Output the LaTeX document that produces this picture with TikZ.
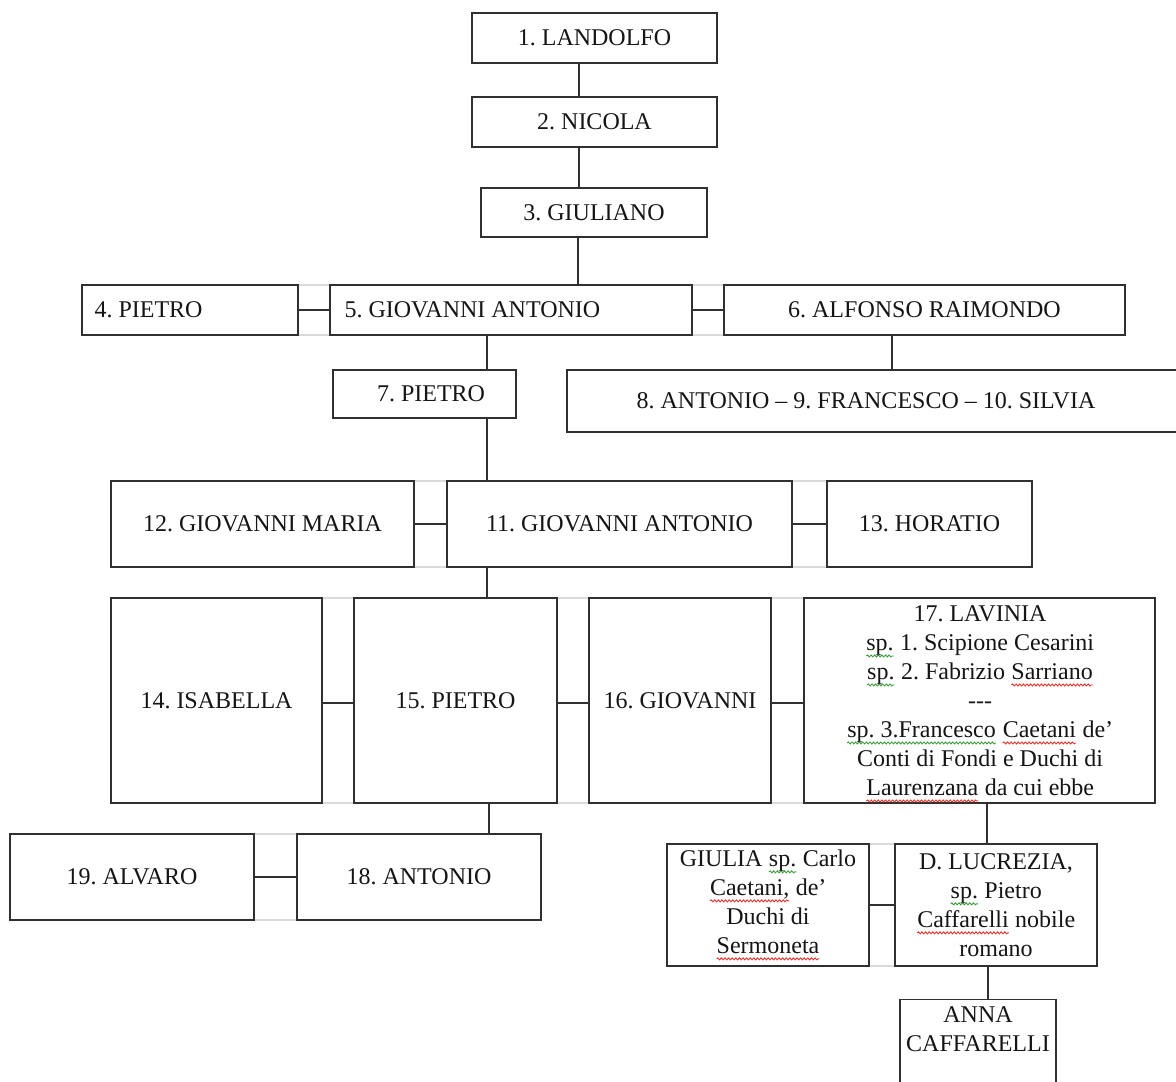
\documentclass[tikz,border=0pt]{standalone}
\usepackage{fontspec}
\setmainfont{Liberation Serif}
\usetikzlibrary{decorations.pathmorphing}
\definecolor{lineC}{HTML}{303030}
\definecolor{gridC}{HTML}{DADADA}
\definecolor{textC}{HTML}{151515}
\definecolor{spellR}{HTML}{E5332A}
\definecolor{spellG}{HTML}{3C9E3C}
\newcommand\squig[2]{\tikz[baseline=(sqw.base)]{\node[inner sep=0pt,outer sep=0pt,minimum width=0pt,minimum height=0pt,draw=none,anchor=center] (sqw) {#2};\draw[#1,line width=0.9pt,decorate,decoration={snake,amplitude=1pt,segment length=3.6pt}] ([yshift=-5.5pt]sqw.base west) -- ([yshift=-5.5pt]sqw.base east);}}
\tikzset{
  boxst/.style={draw=lineC, line width=1.3pt, fill=white, inner sep=2pt, align=center, text=textC,
    font=\fontsize{24}{29}\selectfont\frenchspacing},
  txt/.style={inner sep=0pt, align=center, text=textC, font=\fontsize{24}{29}\selectfont\frenchspacing},
  conn/.style={draw=lineC, line width=1.3pt},
  gridst/.style={draw=gridC, line width=1.5pt}
}
\begin{document}
\begin{tikzpicture}[x=1pt,y=-1pt]
\useasboundingbox[fill=white] (0,0) rectangle (1176,1082);
% gray grid lines
\draw[gridst] (298,285) -- (330,285) (298,335) -- (330,335);
\draw[gridst] (692,285) -- (724,285) (692,335) -- (724,335);
\draw[gridst] (414,481) -- (447,481) (414,567) -- (447,567);
\draw[gridst] (792,481) -- (827,481) (792,567) -- (827,567);
\draw[gridst] (322,598) -- (354,598) (322,803) -- (354,803);
\draw[gridst] (557,598) -- (589,598) (557,803) -- (589,803);
\draw[gridst] (771,598) -- (804,598) (771,803) -- (804,803);
\draw[gridst] (254,834) -- (297,834) (254,920) -- (297,920);
\draw[gridst] (869,844) -- (895,844) (869,966) -- (895,966);
% boxes
\node[boxst, minimum width=245pt, minimum height=50pt] (n1) at (594.5,38) {1. LANDOLFO};
\node[boxst, minimum width=245pt, minimum height=50pt] (n2) at (594.5,122) {2. NICOLA};
\node[boxst, minimum width=226pt, minimum height=49pt] (n3) at (594,212.5) {3. GIULIANO};
\node[boxst, minimum width=216pt, minimum height=50pt] (n4) at (190,310) {};
\node[txt, anchor=west] (t4) at ([xshift=13pt]n4.west) {4. PIETRO};
\node[boxst, minimum width=362pt, minimum height=50pt] (n5) at (511,310) {};
\node[txt, anchor=west] (t5) at ([xshift=15pt]n5.west) {5. GIOVANNI ANTONIO};
\node[boxst, minimum width=401pt, minimum height=50pt] (n6) at (924.5,310) {6. ALFONSO RAIMONDO};
\node[boxst, minimum width=183pt, minimum height=48pt] (n7) at (424.5,394) {};
\node[txt] (t7) at (431,394) {7. PIETRO};
\node[boxst, minimum width=620pt, minimum height=62pt] (n8) at (877,401) {};
\node[txt] (t8) at (866,401) {8. ANTONIO – 9. FRANCESCO – 10. SILVIA};
\node[boxst, minimum width=303pt, minimum height=86pt] (n12) at (262.5,524) {12. GIOVANNI MARIA};
\node[boxst, minimum width=345pt, minimum height=86pt] (n11) at (619.5,524) {11. GIOVANNI ANTONIO};
\node[boxst, minimum width=205pt, minimum height=86pt] (n13) at (929.5,524) {13. HORATIO};
\node[boxst, minimum width=211pt, minimum height=205pt] (n14) at (216.5,700.5) {14. ISABELLA};
\node[boxst, minimum width=203pt, minimum height=205pt] (n15) at (455.5,700.5) {15. PIETRO};
\node[boxst, minimum width=182pt, minimum height=205pt] (n16) at (680,700.5) {16. GIOVANNI};
\node[boxst, minimum width=351pt, minimum height=205pt] (n17) at (979.5,700.5) {};
\node[txt] (t17) at (980,704) {17. LAVINIA\\
\squig{spellG}{sp.} 1. Scipione Cesarini\\
\squig{spellG}{sp.} 2. Fabrizio \squig{spellR}{Sarriano}\\
-{}-{}-\\
\squig{spellG}{sp. 3.Francesco} \squig{spellR}{Caetani} de’\\
Conti di Fondi e Duchi di\\
\squig{spellR}{Laurenzana} da cui ebbe};
\node[boxst, minimum width=244pt, minimum height=86pt] (n19) at (132,877) {19. ALVARO};
\node[boxst, minimum width=244pt, minimum height=86pt] (n18) at (419,877) {18. ANTONIO};
\node[boxst, minimum width=202pt, minimum height=122pt] (ng) at (768,905) {GIULIA \squig{spellG}{sp.} Carlo\\
\squig{spellR}{Caetani,} de’\\
Duchi di\\
\squig{spellR}{Sermoneta}};
\node[boxst, minimum width=202pt, minimum height=122pt] (nl) at (996,905) {D. LUCREZIA,\\
\squig{spellG}{sp.} Pietro\\
\squig{spellR}{Caffarelli} nobile\\
romano};
\node[boxst, minimum width=156pt, minimum height=100pt, anchor=north] (na) at (978,999) {};
\node[txt] (ta) at (978,1029) {ANNA\\CAFFARELLI};
% connector x positions
\coordinate (x579) at (579,0);
\coordinate (x578) at (578,0);
\coordinate (x487) at (487,0);
\coordinate (x489) at (489,0);
\coordinate (x892) at (892,0);
\coordinate (x987) at (987,0);
\coordinate (x988) at (988,0);
\coordinate (y703) at (0,703);
% vertical connectors
\draw[conn] (n1.south -| x579) -- (n2.north -| x579);
\draw[conn] (n2.south -| x579) -- (n3.north -| x579);
\draw[conn] (n3.south -| x578) -- (n5.north -| x578);
\draw[conn] (n5.south -| x487) -- (n7.north -| x487);
\draw[conn] (n6.south -| x892) -- (n8.north -| x892);
\draw[conn] (n7.south -| x487) -- (n11.north -| x487);
\draw[conn] (n11.south -| x487) -- (n15.north -| x487);
\draw[conn] (n15.south -| x489) -- (n18.north -| x489);
\draw[conn] (n17.south -| x987) -- (nl.north -| x987);
\draw[conn] (nl.south -| x988) -- (na.north -| x988);
% horizontal connectors
\draw[conn] (n4.east) -- (n5.west);
\draw[conn] (n5.east) -- (n6.west);
\draw[conn] (n12.east) -- (n11.west);
\draw[conn] (n11.east) -- (n13.west);
\draw[conn] (n14.east |- y703) -- (n15.west |- y703);
\draw[conn] (n15.east |- y703) -- (n16.west |- y703);
\draw[conn] (n16.east |- y703) -- (n17.west |- y703);
\draw[conn] (n19.east) -- (n18.west);
\draw[conn] (ng.east) -- (nl.west);
\end{tikzpicture}
\end{document}
